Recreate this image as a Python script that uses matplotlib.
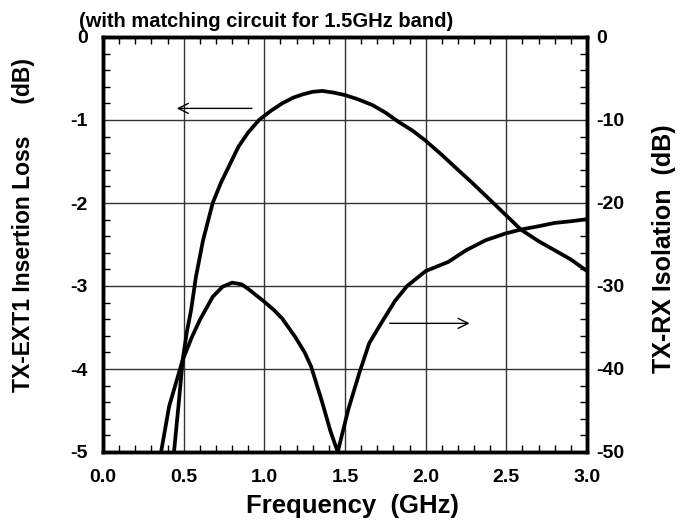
import numpy as np
import matplotlib.pyplot as plt
from matplotlib.ticker import MultipleLocator

plt.rcParams['font.family'] = ['Liberation Sans', 'DejaVu Sans']
plt.rcParams['font.weight'] = 'bold'

# TX-EXT1 insertion loss (left axis, dB)
il_freq = [0.44, 0.47, 0.494, 0.52, 0.546, 0.576, 0.62, 0.68, 0.73, 0.78, 0.84, 0.90,
           0.967, 1.04, 1.11, 1.18, 1.24, 1.30, 1.36, 1.43, 1.50, 1.58, 1.67, 1.75,
           1.83, 1.92, 2.00, 2.10, 2.20, 2.29, 2.36, 2.43, 2.51, 2.59, 2.70, 2.80,
           2.90, 3.00]
il_db = [-5.0, -4.4, -3.89, -3.55, -3.29, -2.89, -2.45, -2.0, -1.76, -1.56, -1.32, -1.15,
         -1.0, -0.89, -0.80, -0.73, -0.69, -0.66, -0.65, -0.67, -0.70, -0.75, -0.82, -0.91,
         -1.02, -1.13, -1.25, -1.42, -1.60, -1.76, -1.89, -2.02, -2.17, -2.32, -2.46, -2.57,
         -2.68, -2.82]

# TX-RX isolation (right axis, dB)
iso_freq = [0.36, 0.41, 0.494, 0.55, 0.60, 0.68, 0.74, 0.80, 0.86, 0.91, 1.00, 1.06, 1.11,
            1.19, 1.25, 1.29, 1.36, 1.41, 1.455, 1.52, 1.59, 1.65, 1.73, 1.81, 1.885, 2.00,
            2.14, 2.25, 2.37, 2.49, 2.59, 2.70, 2.80, 2.90, 3.00]
iso_db = [-50.0, -44.5, -38.9, -36.2, -34.1, -31.3, -30.1, -29.6, -29.8, -30.5, -31.9, -32.9, -33.9,
          -36.1, -38.0, -39.7, -44.1, -47.5, -50.0, -44.9, -40.4, -36.9, -34.3, -31.8, -30.0, -28.2,
          -27.1, -25.7, -24.5, -23.7, -23.2, -22.8, -22.4, -22.2, -21.95]

fig = plt.figure(figsize=(6.92, 5.22), dpi=100)
ax = fig.add_axes([103/692, 1-452/522, 484/692, 415/522])
ax2 = ax.twinx()

ax.plot(il_freq, il_db, color='black', lw=2.7, solid_capstyle='round')
ax2.plot(iso_freq, iso_db, color='black', lw=2.7, solid_capstyle='round')

ax.set_xlim(0, 3)
ax.set_ylim(-5, 0)
ax2.set_ylim(-50, 0)

ax.xaxis.set_major_locator(MultipleLocator(0.5))
ax.xaxis.set_minor_locator(MultipleLocator(0.1))
ax.yaxis.set_major_locator(MultipleLocator(1))
ax.yaxis.set_minor_locator(MultipleLocator(0.2))
ax2.yaxis.set_major_locator(MultipleLocator(10))
ax2.yaxis.set_minor_locator(MultipleLocator(2))

ax.xaxis.set_major_formatter(plt.FuncFormatter(lambda v, p: f'{v:.1f}'))
ax.yaxis.set_major_formatter(plt.FuncFormatter(lambda v, p: f'{v:.0f}'))
ax2.yaxis.set_major_formatter(plt.FuncFormatter(lambda v, p: f'{v:.0f}'))

ax.grid(True, which='major', color='#333333', lw=1.0)
ax.tick_params(which='both', direction='in', top=True, labelsize=14)
ax.tick_params(axis='x', which='major', pad=12)
ax.tick_params(axis='y', which='major', pad=11)
ax.tick_params(which='major', length=0)
ax.tick_params(which='minor', length=5, width=1)
ax2.tick_params(which='both', direction='in', labelsize=14)
ax2.tick_params(which='major', length=0, pad=7)
ax2.tick_params(which='minor', length=5, width=1)

for a in (ax, ax2):
    for s in a.spines.values():
        s.set_linewidth(2.5)

ax.set_xlabel('Frequency  (GHz)', fontsize=18.5, fontweight='bold')
ax.xaxis.set_label_coords(0.515, -0.100)
ax.set_ylabel('TX-EXT1 Insertion Loss     (dB)', fontsize=16.5, fontweight='bold')
ax.yaxis.set_label_coords(-0.140, 0.547)
ax2.set_ylabel('TX-RX Isolation  (dB)', fontsize=18, fontweight='bold')
ax2.yaxis.set_label_coords(1.134, 0.49)

fig.text(79/692, 1-27/522, '(with matching circuit for 1.5GHz band)', fontsize=14.5,
         fontweight='bold', ha='left', va='baseline')

# arrows pointing to the axis each curve belongs to
ax.annotate('', xy=(0.44, -0.86), xytext=(0.94, -0.86),
            arrowprops=dict(arrowstyle='->', color='black', lw=1, mutation_scale=18))
ax2.annotate('', xy=(2.29, -34.5), xytext=(1.76, -34.5),
             arrowprops=dict(arrowstyle='->', color='black', lw=1, mutation_scale=18))

plt.savefig('out.png', dpi=100)
